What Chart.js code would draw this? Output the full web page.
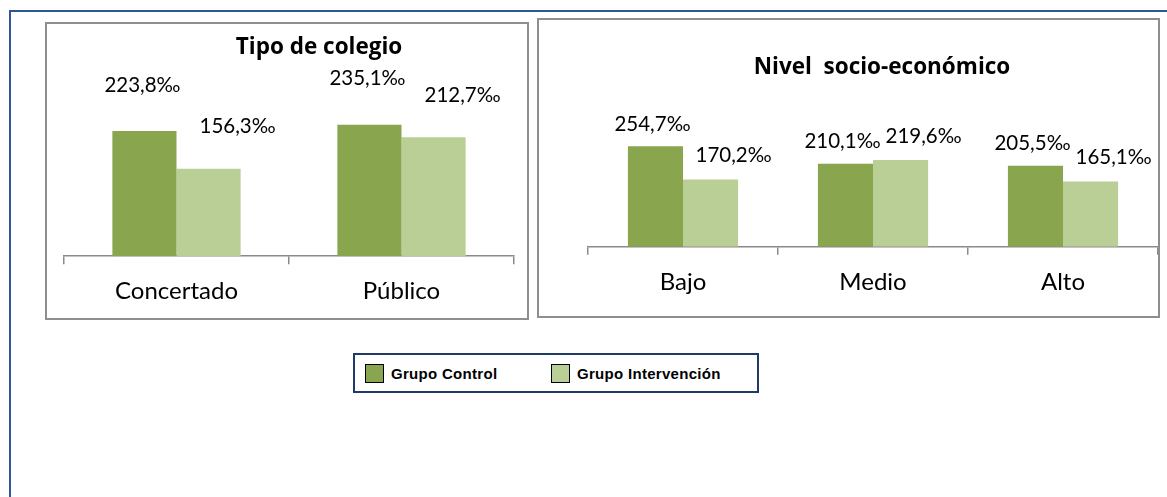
<!DOCTYPE html>
<html>
<head>
<meta charset="utf-8">
<script src="https://cdn.jsdelivr.net/npm/chart.js@4.4.0/dist/chart.umd.min.js"></script>
<style>
  html, body { margin: 0; padding: 0; background: #fff; overflow: hidden; }
  body { width: 1167px; height: 497px; position: relative; }
  #frame { position: absolute; left: 9px; top: 10px; width: 1200px; height: 600px; border: 2px solid #2d5896; box-sizing: border-box; }
  .panel { position: absolute; border: 2px solid #8e8e8e; box-sizing: border-box; background: #fff; }
  #p1 { left: 45px; top: 22px; width: 484px; height: 298px; }
  #p2 { left: 537px; top: 18px; width: 623px; height: 300px; }
  .panel canvas { display: block; }
  #legend { position: absolute; left: 353px; top: 353px; width: 406px; height: 40px; border: 2px solid #1f3a66; box-sizing: border-box;
            font-family: "Liberation Sans", Arial, sans-serif; font-weight: bold; font-size: 15px; letter-spacing: 0.3px; color: #000; }
  .item { position: absolute; top: 9px; height: 20px; line-height: 20px; white-space: nowrap; }
  .swatch { display: inline-block; width: 17px; height: 17px; border: 1.5px solid #000; vertical-align: top; margin-right: 7px; }
</style>
</head>
<body>
<div id="frame"></div>
<div class="panel" id="p1"><canvas id="chart1"></canvas></div>
<div class="panel" id="p2"><canvas id="chart2"></canvas></div>
<div id="legend"></div>

<script>
// data (per mil)
const seriesNames = ['Grupo Control', 'Grupo Intervención'];
const seriesColors = ['#89a54e', '#bacf96'];

const schoolTitle = 'Tipo de colegio';
const schoolTypes = ['Concertado', 'Público'];
const schoolControl = [223.8, 235.1];
const schoolIntervention = [156.3, 212.7];

const sesTitle = 'Nivel  socio-económico';
const sesLevels = ['Bajo', 'Medio', 'Alto'];
const sesControl = [254.7, 210.1, 205.5];
const sesIntervention = [170.2, 219.6, 165.1];

// value labels above the bars + the title (Excel puts it a bit right of centre)
const excelText = {
    id: 'excelText',
    afterDatasetsDraw(chart, args, opts) {
        const ctx = chart.ctx;
        const area = chart.chartArea;
        ctx.save();
        ctx.fillStyle = '#000';
        ctx.textAlign = 'center';
        ctx.textBaseline = 'middle';

        ctx.font = 'bold 22.5px "Open Sans"';
        ctx.fillText(opts.title, (area.left + area.right) / 2 + opts.titleDx, opts.titleY);

        ctx.font = '20.5px Lato';
        chart.data.datasets.forEach((ds, i) => {
            const meta = chart.getDatasetMeta(i);
            meta.data.forEach((bar, j) => {
                const txt = ds.data[j].toFixed(1).replace('.', ',') + '‰';
                ctx.fillText(txt, bar.x + opts.dx[i], bar.y + opts.dy[i]);
            });
        });
        ctx.restore();
    }
};

function makeChart(id, w, h, title, labels, control, intervention, cfg) {
    const canvas = document.getElementById(id);
    canvas.width = w;
    canvas.height = h;
    return new Chart(canvas.getContext('2d'), {
        type: 'bar',
        data: {
            labels: labels,
            datasets: [
                { label: seriesNames[0], data: control, backgroundColor: seriesColors[0] },
                { label: seriesNames[1], data: intervention, backgroundColor: seriesColors[1] },
            ],
        },
        options: {
            responsive: false,
            animation: false,
            devicePixelRatio: 1,
            layout: { padding: cfg.padding },
            datasets: { bar: { categoryPercentage: cfg.catPct, barPercentage: 1 } },
            plugins: {
                legend: { display: false },
                tooltip: { enabled: false },
                title: { display: false },
                excelText: { title: title, titleDx: cfg.titleDx, titleY: cfg.titleY, dx: cfg.dx, dy: cfg.dy },
            },
            scales: {
                x: {
                    grid: { display: true, drawOnChartArea: false, drawTicks: true, tickLength: 8, color: '#8a8a8a', lineWidth: 1.5 },
                    border: { display: true, color: '#8a8a8a', width: 1.5 },
                    ticks: { color: '#000', font: { family: 'Lato', size: 24, lineHeight: 1.2 }, padding: cfg.tickPad },
                },
                y: { display: false, min: 0, max: cfg.max },
            },
        },
        plugins: [excelText],
    });
}

makeChart('chart1', 480, 294, schoolTitle, schoolTypes, schoolControl, schoolIntervention, {
    padding: { left: 17, right: 13, top: 64.5, bottom: -1 },
    titleDx: 30,
    titleY: 24,
    tickPad: 13,
    catPct: 0.57,
    max: 300,
    dx: [-2, 29],
    dy: [-46, -42],
});

makeChart('chart2', 619, 296, sesTitle, sesLevels, sesControl, sesIntervention, {
    padding: { left: 49, right: 0, top: 69, bottom: 6.5 },
    titleDx: 9,
    titleY: 48,
    tickPad: 13,
    catPct: 0.58,
    max: 400,
    dx: [-3, 23],
    dy: [-22, -24],
});

// shared legend under both charts
const legend = document.getElementById('legend');
const itemLeft = [10, 196];
seriesNames.forEach((name, i) => {
    const item = document.createElement('div');
    item.className = 'item';
    item.style.left = itemLeft[i] + 'px';
    const sw = document.createElement('span');
    sw.className = 'swatch';
    sw.style.background = seriesColors[i];
    item.appendChild(sw);
    item.appendChild(document.createTextNode(name));
    legend.appendChild(item);
});
</script>
</body>
</html>
